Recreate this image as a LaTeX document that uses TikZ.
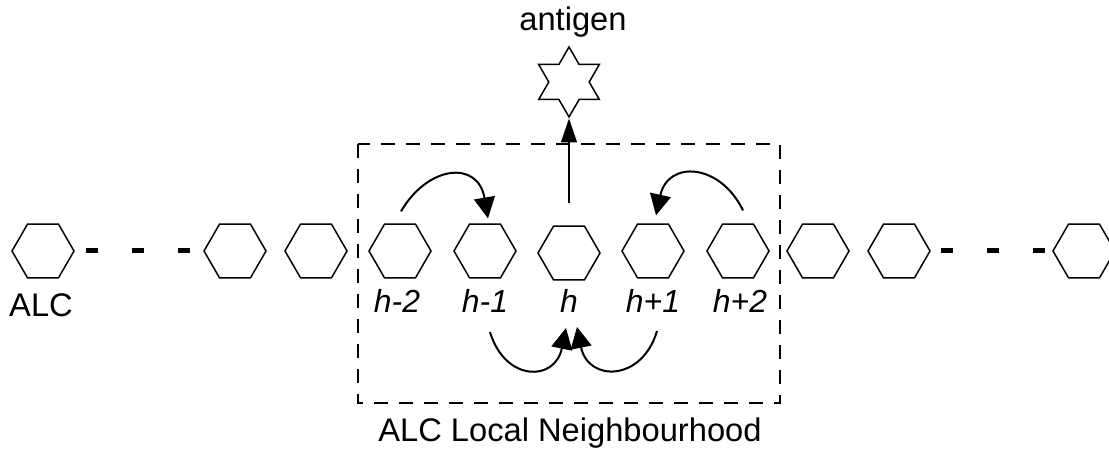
\documentclass[tikz,border=0pt]{standalone}
\usepackage{fontspec}
\setmainfont{Liberation Sans}
\usetikzlibrary{shapes.geometric,arrows.meta,calc}
\begin{document}
\begin{tikzpicture}[x=1bp,y=-1bp,
  cell/.style={draw, line width=1.5bp, regular polygon, regular polygon sides=6,
    minimum size=62bp, inner sep=0pt},
  gap/.style={line width=5bp, dash pattern=on 12bp off 34bp, dash phase=35bp},
  lbl/.style={font=\fontsize{32}{37}\selectfont\itshape, anchor=base},
  txt/.style={font=\fontsize{32.8}{39}\selectfont, anchor=base},
  hop/.style={line width=2bp, -{Triangle[length=21bp,width=21bp]}},
  bind/.style={line width=1.5bp, -{Triangle[length=24bp,width=16bp]}},
  region/.style={line width=1.4bp, dash pattern=on 14bp off 11bp}]
\useasboundingbox (0,0) rectangle (1109,457);

% neighbourhood frame
\draw[region] (358,144) rectangle (780,403);

% chain of cells
\node[cell] (c1)  at (43,251)  {};
\node[cell] (c2)  at (235,251) {};
\node[cell] (c3)  at (316,251) {};
\node[cell] (hm2) at (400,251) {};
\node[cell] (hm1) at (485,251) {};
\node[cell] (h)   at (569,253) {};
\node[cell] (hp1) at (653,251) {};
\node[cell] (hp2) at (738,251) {};
\node[cell] (c4)  at (818,251) {};
\node[cell] (c5)  at (899,251) {};
\node[cell] (c6)  at (1084,251) {};

% elided parts of the chain
\draw[gap] (c1.east) -- (c2.west);
\draw[gap, dash phase=36bp] (c5.east) -- (c6.west);

% antigen
\node[draw, line width=1.5bp, star, star points=6, star point ratio=1.732,
      minimum size=70bp, inner sep=0pt] (ag) at (569,82) {};
\node[txt] (agl) at (573,31) {antigen};

% labels
\node[txt] (alc) at (41,317) {ALC};
\node[lbl] (lm2) at (397,313) {h-2};
\node[lbl] (lm1) at (485,313) {h-1};
\node[lbl] (l0)  at (569,313) {h};
\node[lbl] (lp1) at (653,313) {h+1};
\node[lbl] (lp2) at (740,313) {h+2};
\node[txt] (nbh) at (570,442) {ALC Local Neighbourhood};

% interactions
\draw[bind] ($(h.north)+(0,-22)$) -- (ag.south);
\draw[hop] ($(hm2.north)+(1,-12)$) .. controls (428,165) and (478,160) .. ($(hm1.north)+(3,-5)$);
\draw[hop] ($(hp2.north)+(5,-13)$) .. controls (720,163) and (668,160) .. ($(hp1.north)+(3,-8)$);
\draw[hop] ($(hm1.center)+(5,81)$) .. controls (505,382) and (555,382) .. ($(h.center)+(-3,75)$);
\draw[hop] ($(hp1.center)+(4,80)$) .. controls (642,382) and (588,382) .. ($(h.center)+(8,74)$);
\end{tikzpicture}
\end{document}
